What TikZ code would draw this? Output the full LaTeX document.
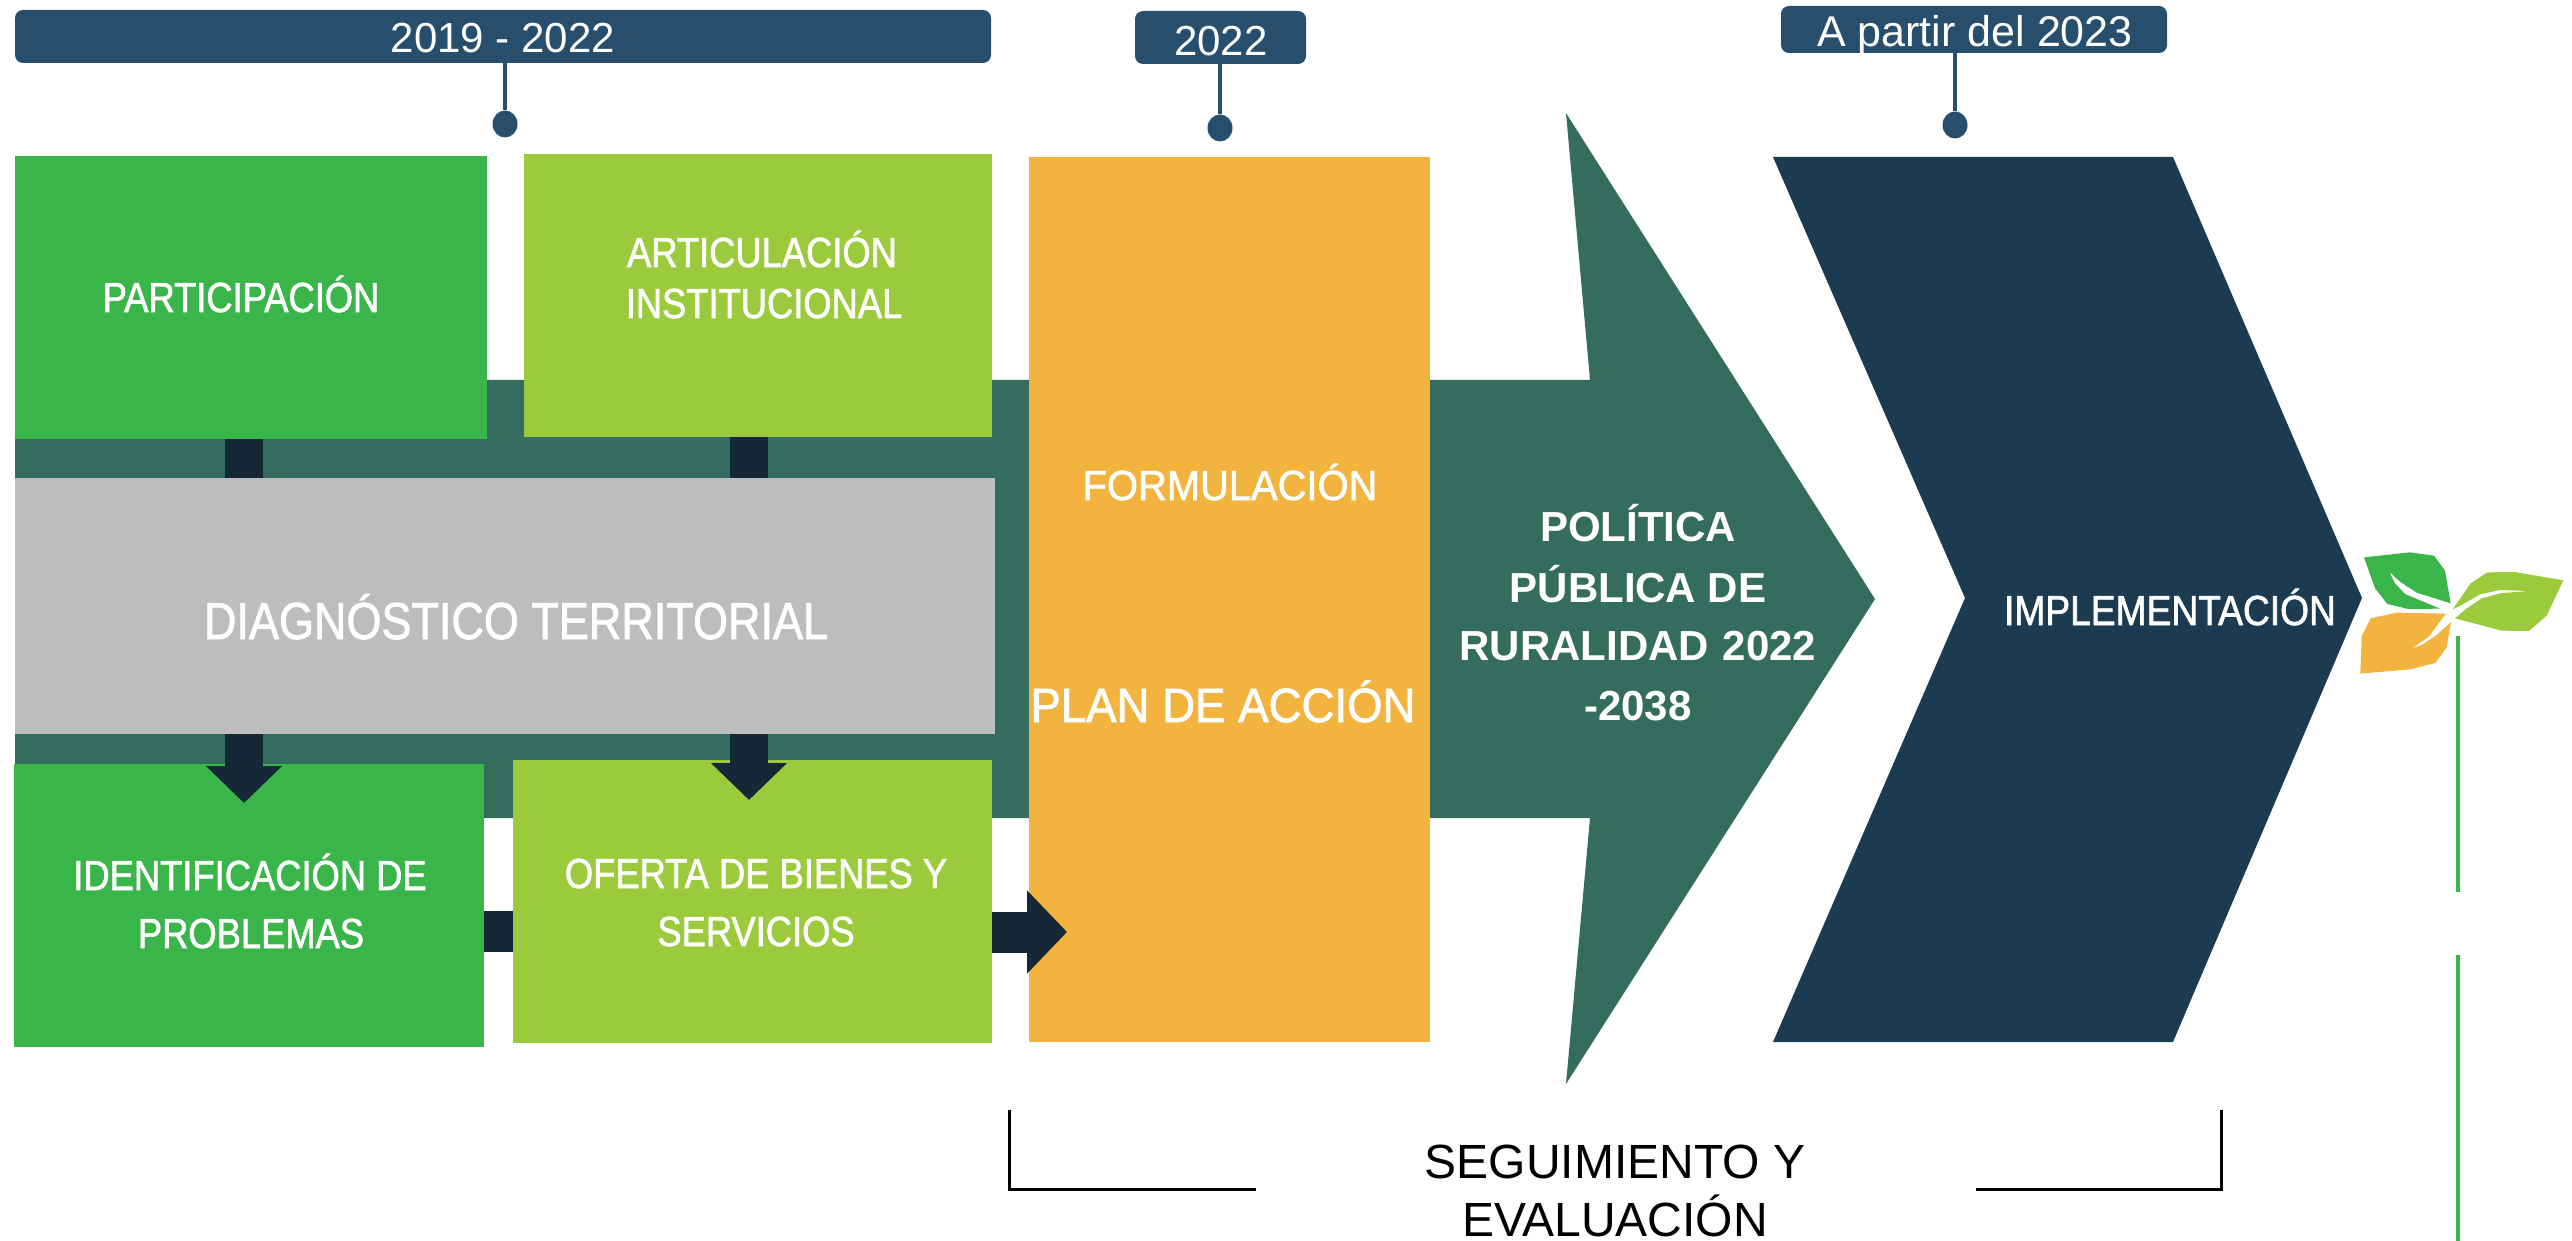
\documentclass[tikz,border=0pt]{standalone}
\usepackage{fontspec}
\usetikzlibrary{arrows.meta,calc,fit,shapes.geometric}
\setmainfont{Liberation Sans}
\newfontfamily\fnarrow[FakeStretch=.865,FakeBold=1.5]{Liberation Sans}
\newfontfamily\fmid[FakeStretch=.885,FakeBold=1.5]{Liberation Sans}
\newfontfamily\fnear[FakeStretch=.95,FakeBold=1.5]{Liberation Sans}
\definecolor{cteal}{HTML}{346D5E}
\definecolor{cnavy}{HTML}{1C3A50}
\definecolor{cdark}{HTML}{152838}
\definecolor{cbar}{HTML}{274F6D}
\definecolor{cgreen}{HTML}{39B54A}
\definecolor{clime}{HTML}{9BCB3C}
\definecolor{corange}{HTML}{F2B43F}
\definecolor{cgray}{HTML}{BDBDBD}
\tikzset{
  block/.style={inner sep=0pt,outer sep=0pt,draw=none},
  barbox/.style={block,fill=cbar,rounded corners=4pt},
  pin/.style={block,ellipse,fill=cbar,minimum width=12.5pt,minimum height=13.5pt},
  pinline/.style={draw=cbar,line width=1.8pt},
  lbl/.style={anchor=base,inner sep=0pt,text=white},
  blk/.style={lbl,text=black},
  stub/.style={draw=cdark,line width=19pt},
  conn/.style={draw=cdark,line width=19pt,-{Triangle[width=37pt,length=18.5pt]}},
  connh/.style={draw=cdark,line width=20.5pt},
  connhh/.style={connh,-{Triangle[width=40.5pt,length=20pt]}},
  brk/.style={draw=black,line width=1.5pt},
  stem/.style={draw=cgreen,line width=2pt}
}
\newcommand{\szA}{\fontsize{21}{25}\selectfont}
\begin{document}
\begin{tikzpicture}[x=.5pt,y=-.5pt]
\useasboundingbox (0,0) rectangle (2572,1241);
% big teal arrow
\fill[cteal] (15,380) -- (1590,380) -- (1566,113) -- (1875,599) -- (1566,1084) -- (1590,818) -- (15,818) -- cycle;
% navy chevron
\fill[cnavy] (1773,157) -- (2173,157) -- (2362,598) -- (2173,1042) -- (1773,1042) -- (1965,598) -- cycle;
% boxes
\node[block,fill=cgreen,fit={(15,156)(487,439)}] (part) {};
\node[block,fill=clime,fit={(524,154)(992,437)}] (arti) {};
\node[block,fill=cgray,fit={(15,478)(995,734)}] (diag) {};
\node[block,fill=cgreen,fit={(14,764)(484,1047)}] (ident) {};
\node[block,fill=clime,fit={(513,760)(992,1043)}] (ofe) {};
\node[block,fill=corange,fit={(1029,157)(1430,1042)}] (form) {};
% top bars
\node[barbox,fit={(15,10)(991,63)}] (bar1) {};
\node[barbox,fit={(1135,11)(1306,64)}] (bar2) {};
\node[barbox,fit={(1781,6)(2167,53)}] (bar3) {};
\node[pin] (pin1) at (505,124) {};
\node[pin] (pin2) at (1220,128) {};
\node[pin] (pin3) at (1955,125) {};
\draw[pinline] (bar1.south -| pin1) -- (pin1);
\draw[pinline] (bar2.south -| pin2) -- (pin2);
\draw[pinline] (bar3.south -| pin3) -- (pin3);
% block connectors
\draw[stub] ($(part.south)+(-7,0)$) coordinate (a1) -- (a1 |- diag.north);
\draw[stub] ($(arti.south)+(-9,0)$) coordinate (a2) -- (a2 |- diag.north);
\draw[conn] (a1 |- diag.south) -- ($(ident.north)+(-5,39)$);
\draw[conn] (a2 |- diag.south) -- ($(ofe.north)+(-3.5,40)$);
\draw[connh] ($(ident.east)+(0,26)$) -- ($(ofe.west)+(0,30)$);
\coordinate (a3) at ($(form.west)+(38,332.5)$);
\draw[connhh] ($(ofe.east)+(0,30.5)$) -- (a3);
% labels
\node[lbl] (t1) at (503,53) {\szA 2019 - 2022};
\node[lbl] (t2) at (1221,56) {\szA 2022};
\node[lbl] (t3) at (1975,47) {\fontsize{21.5}{25}\selectfont A partir del 2023};
\node[lbl] (t4) at (241,312) {\fnarrow\szA PARTICIPACIÓN};
\node[lbl] (t5) at (762,267) {\fnarrow\szA ARTICULACIÓN};
\node[lbl] (t6) at (764,318) {\fnarrow\szA INSTITUCIONAL};
\node[lbl] (t7) at (516,639) {\fnarrow\fontsize{26}{30}\selectfont DIAGNÓSTICO TERRITORIAL};
\node[lbl] (t8) at (250,890) {\fnarrow\szA IDENTIFICACIÓN DE};
\node[lbl] (t9) at (251,948) {\fnarrow\szA PROBLEMAS};
\node[lbl] (t10) at (756,888) {\fnarrow\szA OFERTA DE BIENES Y};
\node[lbl] (t11) at (756,946) {\fnarrow\szA SERVICIOS};
\node[lbl] (t12) at (1230,500) {\fnear\szA FORMULACIÓN};
\node[lbl] (t13) at (1223,722) {\fnear\fontsize{24}{28}\selectfont PLAN DE ACCIÓN};
\node[lbl,font=\bfseries] (t14) at (1638,541) {\szA POLÍTICA};
\node[lbl,font=\bfseries] (t15) at (1638,602) {\szA PÚBLICA DE};
\node[lbl,font=\bfseries] (t16) at (1638,660) {\szA RURALIDAD\hspace{1pt} 2022};
\node[lbl,font=\bfseries] (t17) at (1638,720) {\szA -2038};
\node[lbl] (t18) at (2170,625) {\fmid\szA IMPLEMENTACIÓN};
\node[blk] (t19) at (1615,1178) {\fontsize{24}{28}\selectfont SEGUIMIENTO Y};
\node[blk] (t20) at (1615,1236) {\fontsize{24}{28}\selectfont EVALUACIÓN};
% brackets
\draw[brk] (1009,1110) -- (1009,1189) -- (1256,1189);
\draw[brk] (1976,1189) -- (2221,1189) -- (2221,1110);
% stem
\draw[stem] (2458,636) -- (2458,892);
\draw[stem] (2458,955) -- (2458,1241);
% leaves
\begin{scope}[shift={(2300,500)},x=.16667pt,y=-.16667pt]
\fill[cgreen] (192,172) -- (330,157) -- (402,167) -- (435,212) -- (452,310) -- (350,278) -- (300,245) -- (268,216) -- (285,250) -- (315,282) -- (420,326) -- (325,327) -- (262,312) -- (225,265) -- cycle;
\fill[clime] (790,241) -- (645,216) -- (562,217) -- (512,250) -- (458,328) -- (490,312) -- (540,283) -- (600,270) -- (683,273) -- (600,280) -- (545,295) -- (500,325) -- (465,355) -- (605,392) -- (687,393) -- (740,347) -- cycle;
\fill[corange] (437,341) -- (290,338) -- (212,355) -- (185,408) -- (181,521) -- (330,508) -- (406,489) -- (440,442) -- (453,366) -- (410,405) -- (365,435) -- (320,450) -- (264,468) -- (340,442) -- (385,412) -- cycle;
\end{scope}
\end{tikzpicture}
\end{document}
